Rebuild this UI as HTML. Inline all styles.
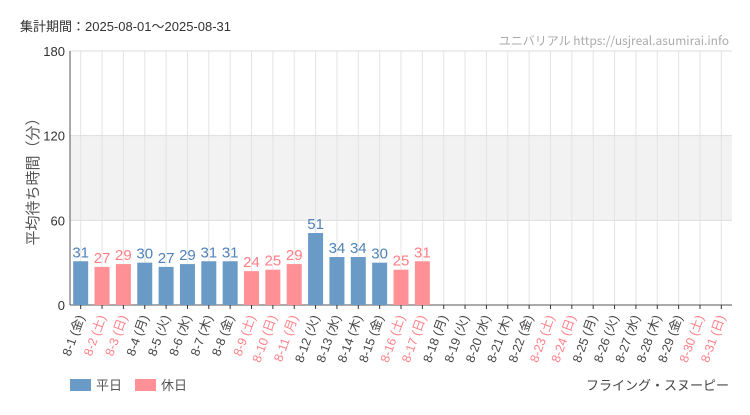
<!DOCTYPE html>
<html><head><meta charset="utf-8"><style>
body{margin:0;background:#fff;width:750px;height:410px;overflow:hidden;font-family:"Liberation Sans","Noto Sans CJK JP",sans-serif}
</style></head><body>
<svg id="chart" width="750" height="410" xmlns="http://www.w3.org/2000/svg" font-family="Liberation Sans, Noto Sans CJK JP, sans-serif">
<text x="20" y="31" font-size="13" fill="#333">集計期間：2025-08-01～2025-08-31</text>
<text x="729" y="45" font-size="12" fill="#aaa" text-anchor="end" font-family="Liberation Sans Narrow, Noto Sans CJK JP, sans-serif">ユニバリアル  https://usjreal.asumirai.info</text>
<text transform="translate(38,178) rotate(-90)" font-size="15" fill="#555" text-anchor="middle">平均待ち時間（分）</text>
<g id="plot"></g>
<g>
<rect x="70" y="379" width="21" height="12" fill="#6a9ac6"/><text x="96" y="390" font-size="13" fill="#555">平日</text>
<rect x="135" y="379" width="21" height="12" fill="#ff9096"/><text x="161" y="390" font-size="13" fill="#555">休日</text>
</g>
<text x="729" y="390" font-size="13" fill="#444" text-anchor="end">フライング・スヌーピー</text>
</svg>
<script>
const days=["8-1","8-2","8-3","8-4","8-5","8-6","8-7","8-8","8-9","8-10","8-11","8-12","8-13","8-14","8-15","8-16","8-17","8-18","8-19","8-20","8-21","8-22","8-23","8-24","8-25","8-26","8-27","8-28","8-29","8-30","8-31"];
const weekdays=["金","土","日","月","火","水","木","金","土","日","月","火","水","木","金","土","日","月","火","水","木","金","土","日","月","火","水","木","金","土","日"];
const holiday=[0,1,1,0,0,0,0,0,1,1,1,0,0,0,0,1,1,0,0,0,0,0,1,1,0,0,0,0,0,1,1];
const values=[31,27,29,30,27,29,31,31,24,25,29,51,34,34,30,25,31,null,null,null,null,null,null,null,null,null,null,null,null,null,null];
const yTicks=[0,60,120,180];
const ns="http://www.w3.org/2000/svg";
const g=document.getElementById('plot');
const X0=70,X1=732,Y0=305,Y1=51,YMAX=180;
const slot=(X1-X0)/days.length;
const xc=i=>X0+slot*(i+0.5);
const y=v=>Y0-(v/YMAX)*(Y0-Y1);
function mk(t,a){const e=document.createElementNS(ns,t);for(const k in a)e.setAttribute(k,a[k]);g.appendChild(e);return e;}
let band=mk('rect',{x:X0,y:y(120),width:X1-X0,height:y(60)-y(120),fill:'#f2f2f2'});


days.forEach((d,i)=>{let l=mk('line',{x1:xc(i),x2:xc(i),y1:Y1,y2:Y0,stroke:'#e4e4e4'});

});
yTicks.forEach(t=>{let l=mk('line',{x1:X0,x2:X1,y1:y(t),y2:y(t),stroke:t==0?'#555':'#ddd'});


let tx=mk('text',{x:X0-5,y:y(t)+5,'font-size':13,fill:'#333','text-anchor':'end'});tx.textContent=t;

});
let ax=mk('line',{x1:X0,x2:X0,y1:Y1,y2:Y0,stroke:'#555'});


days.forEach((d,i)=>{
 const col=holiday[i]?'#ff8088':'#444';
 let tk=mk('line',{x1:xc(i),x2:xc(i),y1:Y0,y2:Y0+4,stroke:'#333'});
 
 
 let lb=mk('text',{transform:`translate(${xc(i)+4},${Y0+12}) rotate(-70)`,'font-size':12.5,fill:col,'text-anchor':'end'});
 lb.textContent=d+" ("+weekdays[i]+")";
 
 
 const v=values[i];
 if(v!=null){
  let b=mk('rect',{x:xc(i)-7.5,y:y(v),width:15,height:Y0-y(v),fill:holiday[i]?'#ff9096':'#6a9ac6'});
  
  
  let vt=mk('text',{x:xc(i),y:y(v)-4,'font-size':15,fill:holiday[i]?'#ff7d85':'#4f82b8','text-anchor':'middle','font-family':'Liberation Sans Narrow, Liberation Sans, sans-serif'});
  vt.textContent=v;
  
  
 }
});
</script>
</body></html>
